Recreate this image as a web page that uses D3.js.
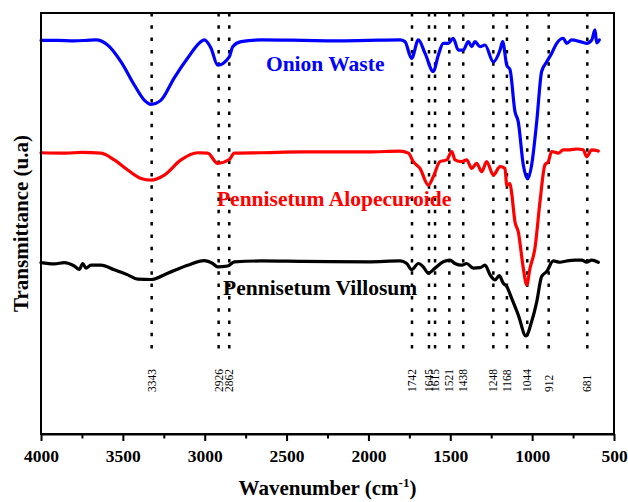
<!DOCTYPE html>
<html>
<head>
<meta charset="utf-8">
<script src="https://cdn.jsdelivr.net/npm/d3@7"></script>
<style>
  html, body { margin: 0; padding: 0; background: #fff; }
  svg { display: block; }
  text { font-family: "Liberation Serif", "Times New Roman", serif; }
</style>
</head>
<body>
<svg id="chart" width="628" height="502"></svg>
<script>
// ---------------- DATA ----------------
const seriesNames = ["Onion Waste", "Pennisetum Alopecuroide", "Pennisetum Villosum"];
const seriesColors = ["#0000ff", "#ff0000", "#000000"];

// [wavenumber (cm-1), transmittance (a.u., offset-stacked)]
const onionWaste = [
  [4000,93.5],[3900,93.5],[3800,93.4],[3720,93.5],[3664,93.6],[3593,92.4],[3511,88.4],[3430,82.9],
  [3369,79.3],[3328,78.3],[3267,79.3],[3186,84.6],[3104,89.3],[3023,93.2],[3003,93.6],[2962,91.7],
  [2921,87.6],[2850,89.6],[2829,92.0],[2778,93.2],[2656,93.6],[2400,93.5],[2200,93.4],[2000,93.5],
  [1807,93.6],[1777,93.2],[1736,89.2],[1695,93.6],[1654,90.4],[1604,86.1],[1573,90.0],[1543,92.8],
  [1512,92.8],[1482,94.0],[1451,91.2],[1421,91.2],[1390,93.2],[1369,92.0],[1349,93.2],[1319,92.0],
  [1288,92.4],[1237,88.4],[1196,91.2],[1180,93.2],[1155,87.6],[1135,86.5],[1105,76.6],[1085,74.2],
  [1054,63.9],[1027,60.6],[1003,63.9],[972,74.2],[942,86.1],[911,88.4],[881,90.4],[850,92.8],
  [810,94.0],[789,92.8],[758,93.6],[708,93.2],[667,92.8],[636,93.6],[616,96.0],[606,92.9],[590,93.6]
];
const pennisetumAlopecuroide = [
  [4000,66.8],[3850,66.7],[3750,66.9],[3634,66.7],[3552,65.1],[3470,62.7],[3389,60.7],[3328,60.3],
  [3247,61.5],[3145,65.1],[3043,66.8],[2982,66.7],[2921,64.3],[2850,65.2],[2819,66.7],[2656,66.8],
  [2400,67.0],[2000,67.0],[1807,67.2],[1756,66.7],[1726,64.7],[1685,63.1],[1634,59.1],[1604,61.1],
  [1563,64.7],[1522,65.1],[1491,67.1],[1471,65.1],[1430,64.7],[1400,65.1],[1369,63.1],[1339,64.3],
  [1308,62.3],[1278,64.7],[1237,61.5],[1196,63.5],[1166,63.1],[1155,59.1],[1135,59.5],[1125,57.2],
  [1105,50.4],[1085,48.1],[1054,39.4],[1033,35.4],[1013,39.4],[983,44.1],[952,55.2],[922,63.9],
  [901,64.7],[881,67.1],[840,66.7],[810,67.5],[769,67.5],[728,67.7],[688,67.5],[667,65.9],
  [636,67.5],[596,67.2]
];
const pennisetumVillosum = [
  [4000,40.7],[3919,40.4],[3858,40.7],[3797,39.9],[3766,39.1],[3745,40.5],[3725,39.4],[3695,40.1],
  [3634,40.1],[3552,39.0],[3470,37.8],[3409,36.8],[3328,36.7],[3226,38.2],[3104,40.1],[3003,41.2],
  [2951,40.5],[2921,39.7],[2860,39.9],[2819,40.9],[2656,41.1],[2400,41.0],[2000,40.9],[1807,41.1],
  [1766,40.5],[1736,39.0],[1695,40.5],[1665,39.7],[1634,38.2],[1593,39.4],[1543,40.9],[1502,41.3],
  [1471,40.5],[1430,40.1],[1400,40.5],[1359,39.4],[1319,39.5],[1288,40.1],[1257,37.8],[1227,36.6],
  [1201,37.6],[1176,35.8],[1155,35.0],[1125,32.2],[1085,28.3],[1038,23.3],[1003,26.7],[972,31.4],
  [942,37.4],[911,38.6],[871,41.1],[830,40.8],[789,41.1],[738,41.3],[697,41.3],[667,40.8],
  [636,41.3],[596,40.8]
];

// Peak annotations: printed label and wavenumber where the dotted guide line is drawn
const peakLabels = ["3343","2926","2862","1742","1645","1615","1521","1438","1248","1168","1044","912","681"];
const peakLinePos = [3324, 2915, 2850, 1734, 1630, 1593, 1506, 1421, 1237, 1154, 1030, 899, 663];

// Series label anchor points [wavenumber, transmittance]
const seriesLabelPos = [[2626, 86.2], [2925, 54.2], [2888, 33.0]];

const xMajorTicks = [4000, 3500, 3000, 2500, 2000, 1500, 1000, 500];
const xMinorTicks = [3750, 3250, 2750, 2250, 1750, 1250, 750];

// ---------------- LAYOUT ----------------
const svg = d3.select("#chart");
const m = { left: 41, right: 14, top: 13, bottom: 68 };
const W = 628, H = 502;
const x = d3.scaleLinear().domain([4000, 500]).range([m.left, W - m.right]);
const y = d3.scaleLinear().domain([0, 100]).range([H - m.bottom, m.top]);
const FONT = '"Liberation Serif", "Times New Roman", serif';

// Dotted peak guide lines
const guideBottom = 18.5; // transmittance level where guides stop
svg.append("g").selectAll("line").data(peakLinePos).join("line")
  .attr("x1", d => x(d)).attr("x2", d => x(d))
  .attr("y1", y(100)).attr("y2", y(guideBottom))
  .attr("stroke", "#000").attr("stroke-width", 2.5)
  .attr("stroke-dasharray", "3.5 8.8");

// Peak labels
svg.append("g").selectAll("text").data(peakLabels).join("text")
  .attr("transform", (d, i) => `translate(${x(peakLinePos[i])},392) rotate(-90)`)
  .attr("dy", "0.35em")
  .attr("text-anchor", "start")
  .style("font-size", "11.5px")
  .style("font-family", FONT)
  .text(d => d);

// Curves
const line = d3.line().x(d => x(d[0])).y(d => y(d[1])).curve(d3.curveMonotoneX);
[onionWaste, pennisetumAlopecuroide, pennisetumVillosum].forEach((s, i) => {
  svg.append("path").datum(s)
    .attr("d", line)
    .attr("fill", "none")
    .attr("stroke", seriesColors[i])
    .attr("stroke-width", 3.2)
    .attr("stroke-linejoin", "round")
    .attr("stroke-linecap", "round");
});

// Series labels
svg.append("g").selectAll("text").data(seriesNames).join("text")
  .attr("x", (d, i) => x(seriesLabelPos[i][0]))
  .attr("y", (d, i) => y(seriesLabelPos[i][1]))
  .attr("fill", (d, i) => seriesColors[i])
  .style("font-size", "21.5px")
  .style("font-weight", "bold")
  .style("font-family", FONT)
  .text(d => d);

// Frame
svg.append("rect")
  .attr("x", x(4000)).attr("y", y(100))
  .attr("width", x(500) - x(4000)).attr("height", y(0) - y(100))
  .attr("fill", "none").attr("stroke", "#000").attr("stroke-width", 2);

// X axis (major)
const xAxis = svg.append("g")
  .attr("transform", `translate(0,${y(0)})`)
  .call(d3.axisBottom(x).tickValues(xMajorTicks).tickSize(7).tickSizeOuter(0).tickFormat(d3.format("d")));
xAxis.select(".domain").attr("stroke-width", 2);
xAxis.selectAll(".tick line").attr("stroke-width", 2);
xAxis.selectAll(".tick text")
  .attr("y", 28).attr("dy", 0)
  .style("font-size", "17.5px").style("font-weight", "bold").style("font-family", FONT)
  .attr("fill", "#000");

// X axis (minor)
const xMinor = svg.append("g")
  .attr("transform", `translate(0,${y(0)})`)
  .call(d3.axisBottom(x).tickValues(xMinorTicks).tickSize(4.5).tickFormat(""));
xMinor.select(".domain").remove();
xMinor.selectAll(".tick line").attr("stroke-width", 2);

// Axis titles
const xt = svg.append("text")
  .attr("x", (x(4000) + x(500)) / 2).attr("y", 495)
  .attr("text-anchor", "middle")
  .style("font-size", "21px").style("font-weight", "bold").style("font-family", FONT);
xt.append("tspan").text("Wavenumber (cm");
xt.append("tspan").attr("dy", -8).style("font-size", "13px").text("-1");
xt.append("tspan").attr("dy", 8).text(")");

svg.append("text")
  .attr("transform", `translate(28,${(y(0) + y(100)) / 2}) rotate(-90)`)
  .attr("text-anchor", "middle")
  .style("font-size", "21px").style("font-weight", "bold").style("font-family", FONT)
  .text("Transmittance (u.a)");
</script>
</body>
</html>
